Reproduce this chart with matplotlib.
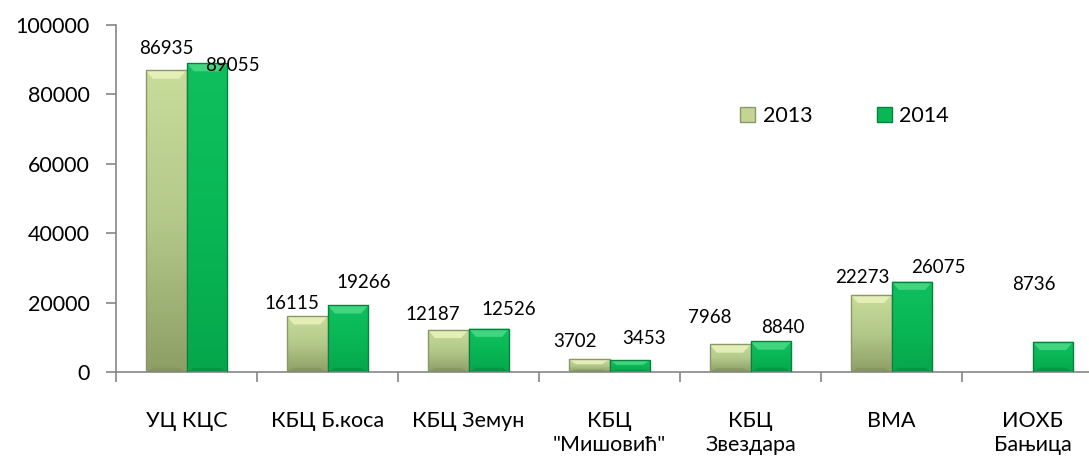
import numpy as np
import matplotlib
matplotlib.use('Agg')
import matplotlib.pyplot as plt
from matplotlib.patches import Polygon, Patch
from matplotlib.colors import LinearSegmentedColormap

plt.rcParams['font.family'] = ['Lato', 'DejaVu Sans']

# podaci
categories = ['УЦ КЦС', 'КБЦ Б.коса', 'КБЦ Земун', 'КБЦ\n"Мишовић"',
              'КБЦ\nЗвездара', 'ВМА', 'ИОХБ\nБањица']
v2013 = [86935, 16115, 12187, 3702, 7968, 22273, None]
v2014 = [89055, 19266, 12526, 3453, 8840, 26075, 8736]
years = ['2013', '2014']
yticks = [0, 20000, 40000, 60000, 80000, 100000]

# pomeraji natpisa (pikseli) - rucno kao u originalu
off2013 = [(0, 22), (-15, 13), (-15, 15), (-14, 18), (-20, 27), (-9, 17), (0, 0)]
off2014 = [(25, -3), (16, 23), (20, 19), (14, 22), (12, 14), (26, 14), (-19, 57)]

W, H = 1089, 458
fig = plt.figure(figsize=(W / 100, H / 100), dpi=100, facecolor='white')
ax = fig.add_axes([116 / W, (H - 372) / H, 987 / W, 347 / H])

w = 0.29
x = np.arange(len(categories))

cm13 = LinearSegmentedColormap.from_list('c13', ['#8e9f66', '#b3c98a', '#c8dc9a'])
cm14 = LinearSegmentedColormap.from_list('c14', ['#06a74c', '#09b755', '#0fbf5d'])


def draw_bars(xs, vals, cmap, edge, top, bottom):
    for xi, v in zip(xs, vals):
        if v is None:
            continue
        b = ax.bar(xi, v, width=w, align='edge', color='none', edgecolor=edge,
                   linewidth=1.0, zorder=3)[0]
        x0, x1 = b.get_x(), b.get_x() + b.get_width()
        y1 = b.get_height()
        grad = np.linspace(0, 1, 100).reshape(-1, 1)
        im = ax.imshow(grad, cmap=cmap, origin='lower', aspect='auto',
                       extent=(x0, x1, 0, y1), zorder=2)
        im.set_clip_path(b)
        # bevel
        bx = w * 0.18
        by = min(2400, y1 * 0.4)
        ax.add_patch(Polygon([(x0, y1), (x1, y1), (x1 - bx, y1 - by), (x0 + bx, y1 - by)],
                             closed=True, facecolor=top, edgecolor='none', alpha=0.8, zorder=2.5))
        bb = min(1200, y1 * 0.2)
        ax.add_patch(Polygon([(x0, 0), (x1, 0), (x1 - bx, bb), (x0 + bx, bb)],
                             closed=True, facecolor=bottom, edgecolor='none', alpha=0.5, zorder=2.5))


draw_bars(x - w, v2013, cm13, '#8a9868', '#eef4c0', '#7d8c58')
draw_bars(x, v2014, cm14, '#05823d', '#4fdc8a', '#03853c')

for i in range(len(categories)):
    if v2013[i] is not None:
        ax.annotate(str(v2013[i]), (x[i] - w / 2, v2013[i]), xytext=(off2013[i][0], off2013[i][1]),
                    textcoords='offset pixels', ha='center', va='center', fontsize=13.5, zorder=5)
    ax.annotate(str(v2014[i]), (x[i] + w / 2, v2014[i]), xytext=(off2014[i][0], off2014[i][1]),
                textcoords='offset pixels', ha='center', va='center', fontsize=13.5, zorder=5)

ax.set_xlim(-0.5, len(categories) - 0.5)
ax.set_ylim(0, 100000)
ax.set_yticks(yticks)
ax.set_yticklabels([str(t) for t in yticks], fontsize=15.5)
ax.set_xticks(x)
ax.set_xticklabels(categories, fontsize=15.5, linespacing=1.25, va='top')
ax.set_xticks(np.arange(-0.5, len(categories), 1.0), minor=True)
ax.tick_params(axis='x', which='major', length=0, pad=28)
ax.tick_params(axis='x', which='minor', length=7, color='#868686', width=1.2)
ax.tick_params(axis='y', length=7, color='#868686', width=1.2, pad=12)

for s in ['top', 'right']:
    ax.spines[s].set_visible(False)
for s in ['left', 'bottom']:
    ax.spines[s].set_color('#868686')
    ax.spines[s].set_linewidth(1.2)

handles = [Patch(facecolor='#c2d597', edgecolor='#8a9868'),
           Patch(facecolor='#09b755', edgecolor='#05823d')]
fig.legend(handles, years, loc='center left', bbox_to_anchor=(740 / W, 1 - 116 / H),
           ncol=2, frameon=False, fontsize=15.5, handlelength=0.7, handleheight=0.7,
           handletextpad=0.35, columnspacing=3.0, borderaxespad=0, borderpad=0)

fig.savefig('out.png', dpi=100, facecolor='white')
